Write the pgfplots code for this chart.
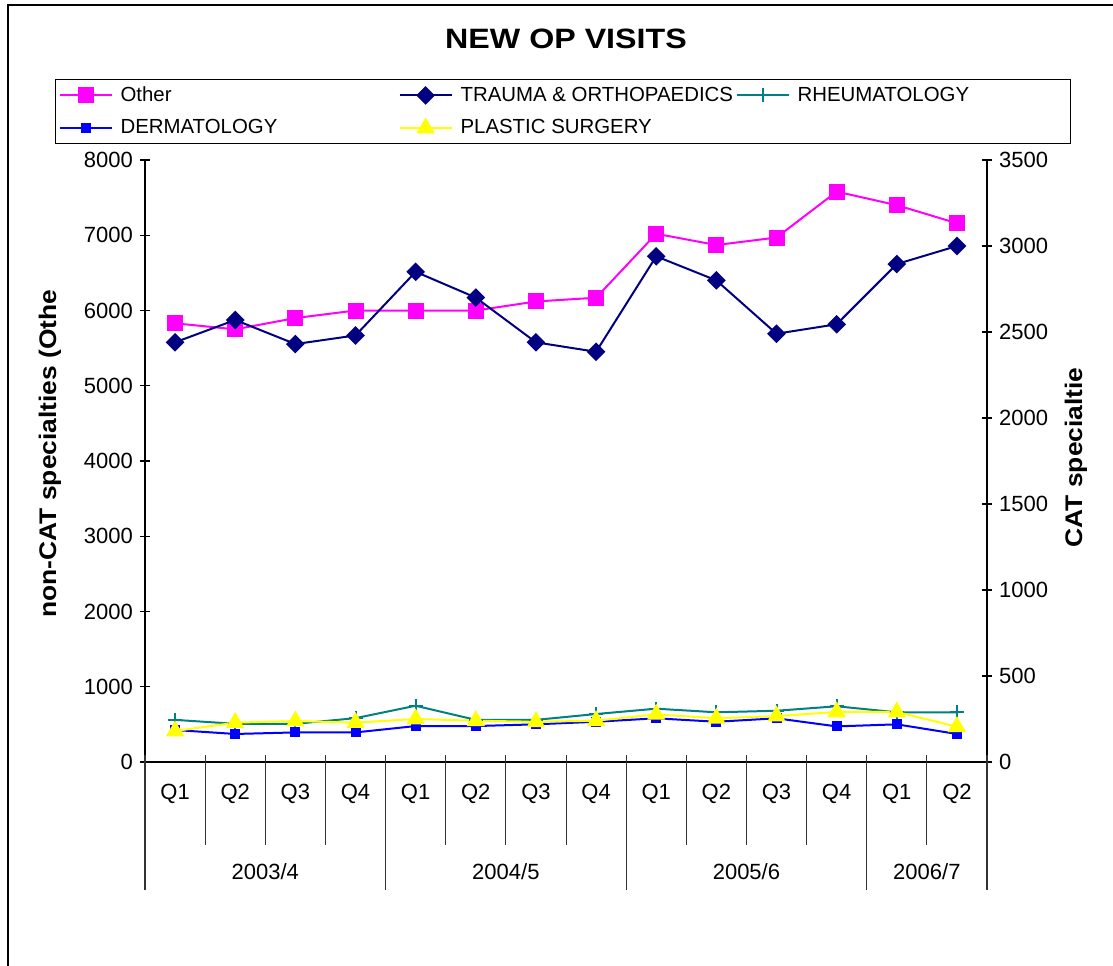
\documentclass[border=0pt]{standalone}
\usepackage{fontspec}
\setmainfont{Liberation Sans}
\newfontfamily\stretchfont[FakeStretch=1.1]{Liberation Sans}
\newfontfamily\titlefont[FakeStretch=1.15]{Liberation Sans}
\usepackage{pgfplots}
\pgfplotsset{compat=1.18}
\definecolor{cOther}{RGB}{255,0,255}
\definecolor{cTrauma}{RGB}{0,0,128}
\definecolor{cRheum}{RGB}{0,128,128}
\definecolor{cDerm}{RGB}{0,0,255}
\definecolor{cPlastic}{RGB}{255,255,0}
\begin{document}
\begin{tikzpicture}
\useasboundingbox (-72.5pt,-101.5pt) rectangle (484pt,381pt);
\draw[line width=0.6pt] (-68.5pt,-105pt) -- (-68.5pt,378.5pt) -- (490pt,378.5pt);
\pgfplotsset{
  common/.style={
    scale only axis, width=421pt, height=301pt,
    xmin=0.5, xmax=14.5,
    tick align=center, major tick length=5pt,
    tick label style={font=\fontsize{11}{13}\selectfont},
    /pgf/number format/assume math mode=true,
    /pgf/number format/1000 sep={},
    axis line style={black, line width=0.7pt, -},
    y tick style={black, line width=0.6pt},
    clip=false,
  }
}
\begin{axis}[common,
  ymin=0, ymax=8000, ytick={0,1000,...,8000},
  axis x line*=bottom, axis y line*=left,
  xtick={1,...,14},
  xticklabels={Q1,Q2,Q3,Q4,Q1,Q2,Q3,Q4,Q1,Q2,Q3,Q4,Q1,Q2},
  x tick style={draw=none},
  xticklabel style={anchor=center, yshift=-13.5pt},
  extra x ticks={2.5,6.5,10.5,13.5},
  extra x tick labels={2003/4,2004/5,2005/6,2006/7},
  extra x tick style={xticklabel style={yshift=-39pt}},
  ylabel={non-CAT specialties (Othe},
  ylabel style={at={(axis description cs:-0.1128,0.5125)}, anchor=center, font=\stretchfont\bfseries\fontsize{12}{14}\selectfont},
  title={NEW OP VISITS},
  title style={at={(axis description cs:0.5,1.181)}, anchor=center, font=\titlefont\bfseries\fontsize{14}{17}\selectfont},
]
\addplot[color=cOther, line width=1pt, mark=square*, mark size=3.5pt, mark options={solid}] coordinates {
(1,5830) (2,5750) (3,5900) (4,6000) (5,6000) (6,6000) (7,6120) (8,6170)
(9,7020) (10,6870) (11,6970) (12,7580) (13,7400) (14,7160)};
\end{axis}
\begin{axis}[common,
  ymin=0, ymax=3500, ytick={0,500,...,3500},
  axis x line=none, axis y line*=right,
  ylabel={CAT specialtie},
  ylabel style={at={(axis description cs:1.1057,0.506)}, anchor=center, font=\stretchfont\bfseries\fontsize{12}{14}\selectfont},
  legend columns=3,
  legend cell align=left,
  legend image code/.code={\draw[mark repeat=2,mark phase=2,#1] plot coordinates {(0pt,0pt) (13pt,0pt) (26pt,0pt)};},
  legend style={at={(axis description cs:-0.1069,1.1346)}, anchor=north west,
    draw=black, line width=0.6pt, fill=white,
    font=\fontsize{10.2}{12}\selectfont,
    inner xsep=1.5pt, inner ysep=1.5pt,
    nodes={inner sep=2pt},
    row sep=3.5pt,
    /tikz/every odd column/.append style={column sep=2pt},
    /tikz/every even column/.append style={column sep=0pt}},
]
\addlegendimage{color=cOther, line width=1pt, mark=square*, mark size=3.5pt}
\addlegendentry{\makebox[137pt][l]{Other}}
\addplot[color=cTrauma, line width=1pt, mark=square*, mark size=2.8pt, mark options={rotate=45}] coordinates {
(1,2440) (2,2570) (3,2430) (4,2480) (5,2850) (6,2700) (7,2440) (8,2385)
(9,2940) (10,2800) (11,2490) (12,2545) (13,2895) (14,3000)};
\addlegendentry{\makebox[135.5pt][l]{TRAUMA \& ORTHOPAEDICS}}
\addplot[color=cRheum, line width=1pt, mark=+, mark size=3.5pt] coordinates {
(1,245) (2,222) (3,222) (4,255) (5,327) (6,245) (7,245) (8,279)
(9,310) (10,289) (11,298) (12,324) (13,289) (14,289)};
\addlegendentry{\makebox[133pt][l]{RHEUMATOLOGY}}
\addplot[color=cDerm, line width=1pt, mark=square*, mark size=2pt] coordinates {
(1,186) (2,163) (3,172) (4,172) (5,209) (6,209) (7,219) (8,234)
(9,254) (10,234) (11,254) (12,207) (13,219) (14,163)};
\addlegendentry{\makebox[137pt][l]{DERMATOLOGY\rule[-8.5pt]{0pt}{0pt}}}
\addplot[color=cPlastic, line width=1pt, mark=triangle*, mark size=4.3pt] coordinates {
(1,180) (2,229) (3,238) (4,229) (5,250) (6,240) (7,234) (8,240)
(9,277) (10,254) (11,267) (12,291) (13,291) (14,205)};
\addlegendentry{\makebox[135.5pt][l]{PLASTIC SURGERY\rule[-8.5pt]{0pt}{0pt}}}
\end{axis}
% category separators
\foreach \k in {1,2,3,5,6,7,9,10,11,13}{
  \draw[black!80, line width=0.5pt] (\k*30.0714pt,3.5pt) -- (\k*30.0714pt,-41.5pt);
}
\foreach \k in {0,4,8,12,14}{
  \draw[black!80, line width=0.6pt] (\k*30.0714pt,3.5pt) -- (\k*30.0714pt,-64pt);
}
\end{tikzpicture}
\end{document}
